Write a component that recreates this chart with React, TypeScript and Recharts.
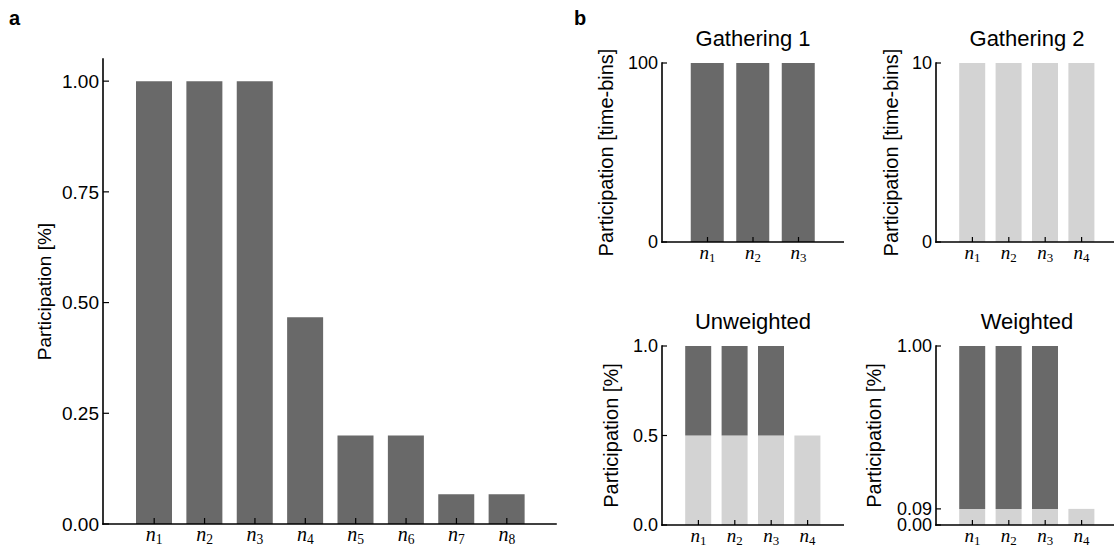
import { BarChart, Bar, XAxis, YAxis } from "recharts";

// panel a
const neuronsA = ["n1", "n2", "n3", "n4", "n5", "n6", "n7", "n8"];
const participationA = [1, 1, 1, 0.467, 0.2, 0.2, 0.067, 0.067];
const ticksA = [0, 0.25, 0.5, 0.75, 1];

// panel b, gatherings
const neuronsG1 = ["n1", "n2", "n3"];
const binsG1 = [100, 100, 100];
const neuronsG2 = ["n1", "n2", "n3", "n4"];
const binsG2 = [10, 10, 10, 10];

// panel b, participation split by gathering
const neuronsB = ["n1", "n2", "n3", "n4"];
const unweightedG1 = [0.5, 0.5, 0.5, 0];
const unweightedG2 = [0.5, 0.5, 0.5, 0.5];
const weightedG1 = [0.91, 0.91, 0.91, 0];
const weightedG2 = [0.09, 0.09, 0.09, 0.09];

const DARK = "#696969";
const LIGHT = "#d3d3d3";
const SANS = "'Liberation Sans', Arial, Helvetica, sans-serif";
const SERIF = "'Liberation Serif', 'Times New Roman', serif";
const axisStyle = { stroke: "#000", strokeWidth: 1.6, strokeLinecap: "square" as const };

const dataA = neuronsA.map((n, i) => ({ neuron: n, value: participationA[i] }));
const dataG1 = neuronsG1.map((n, i) => ({ neuron: n, value: binsG1[i] }));
const dataG2 = neuronsG2.map((n, i) => ({ neuron: n, value: binsG2[i] }));
const dataUnw = neuronsB.map((n, i) => ({ neuron: n, g2: unweightedG2[i], g1: unweightedG1[i] }));
const dataW = neuronsB.map((n, i) => ({ neuron: n, g2: weightedG2[i], g1: weightedG1[i] }));

// n_i labels with inward tick marks
function NTick(props: any) {
  const { x, y, payload, len, size, gap } = props;
  const v = String(payload.value);
  return (
    <g>
      <line x1={x} x2={x} y1={y} y2={y - len} stroke="#000" strokeWidth={1.2} />
      <text x={x} y={y + gap} textAnchor="middle" fontFamily={SERIF} fontSize={size} fill="#000">
        <tspan fontStyle="italic">{v[0]}</tspan>
        <tspan fontSize={size * 0.68} dy={3}>{v.slice(1)}</tspan>
      </text>
    </g>
  );
}

function YTick(props: any) {
  const { x, y, payload, len, size, digits } = props;
  return (
    <g>
      <line x1={x} x2={x + len} y1={y} y2={y} stroke="#000" strokeWidth={1.2} />
      <text x={x - 4} y={y} dy="0.36em" textAnchor="end" fontFamily={SANS} fontSize={size} fill="#000">
        {Number(payload.value).toFixed(digits)}
      </text>
    </g>
  );
}

const yLabel = (text: string, dist: number, size: number) => (props: any) => {
  const vb = props.viewBox;
  const cx = vb.x + vb.width - dist;
  const cy = vb.y + vb.height / 2;
  return (
    <text
      x={cx}
      y={cy}
      transform={`rotate(-90 ${cx} ${cy})`}
      textAnchor="middle"
      dominantBaseline="central"
      fontFamily={SANS}
      fontSize={size}
      fill="#000"
    >
      {text}
    </text>
  );
};

function SmallPanel(props: any) {
  const { left, top, width, height, axisW, mTop, xH, pad, data, ticks, domain, digits, label, labelDist, children } = props;
  return (
    <div style={{ position: "absolute", left, top }}>
      <BarChart width={width} height={height} data={data} margin={{ top: mTop, right: 0, bottom: 0, left: 0 }}>
        <XAxis
          dataKey="neuron"
          interval={0}
          padding={{ left: pad, right: pad }}
          height={xH}
          tickSize={0}
          tickMargin={0}
          tickLine={false}
          axisLine={axisStyle}
          tick={<NTick len={5} size={19} gap={17} />}
        />
        <YAxis
          type="number"
          domain={domain}
          ticks={ticks}
          interval={0}
          width={axisW}
          tickSize={0}
          tickMargin={0}
          tickLine={false}
          axisLine={axisStyle}
          tick={<YTick len={5} size={18} digits={digits} />}
          label={yLabel(label, labelDist, 20)}
        />
        {children}
      </BarChart>
    </div>
  );
}

export default function App() {
  return (
    <div style={{ position: "absolute", left: 0, top: 0, width: 1114, height: 548, overflow: "hidden", background: "#fff" }}>
      <div style={{ position: "absolute", left: 0, top: 0 }}>
        <BarChart width={560} height={548} data={dataA} margin={{ top: 59, right: 4, bottom: 0, left: 0 }}>
          <XAxis
            dataKey="neuron"
            interval={0}
            padding={{ left: 26, right: 24 }}
            height={24}
            tickSize={0}
            tickMargin={0}
            tickLine={false}
            axisLine={axisStyle}
            tick={<NTick len={6} size={20} gap={17} />}
          />
          <YAxis
            type="number"
            domain={[0, 1.05]}
            ticks={ticksA}
            interval={0}
            width={103}
            tickSize={0}
            tickMargin={0}
            tickLine={false}
            axisLine={axisStyle}
            tick={<YTick len={6} size={19} digits={2} />}
            label={yLabel("Participation [%]", 59, 19)}
          />
          <Bar dataKey="value" fill={DARK} barSize={36} isAnimationActive={false} />
        </BarChart>
      </div>

      <SmallPanel left={560} top={0} width={284} height={280} axisW={102} mTop={63} xH={38} pad={22.75}
        data={dataG1} ticks={[0, 100]} domain={[0, 100]} digits={0} label="Participation [time-bins]" labelDist={56}>
        <Bar dataKey="value" fill={DARK} barSize={33} isAnimationActive={false} />
      </SmallPanel>

      <SmallPanel left={836} top={0} width={282} height={280} axisW={100} mTop={63} xH={38} pad={18.2}
        data={dataG2} ticks={[0, 10]} domain={[0, 10]} digits={0} label="Participation [time-bins]" labelDist={45}>
        <Bar dataKey="value" fill={LIGHT} barSize={26} isAnimationActive={false} />
      </SmallPanel>

      <SmallPanel left={560} top={280} width={284} height={268} axisW={102} mTop={66} xH={23} pad={18.2}
        data={dataUnw} ticks={[0, 0.5, 1]} domain={[0, 1]} digits={1} label="Participation [%]" labelDist={51}>
        <Bar dataKey="g2" stackId="s" fill={LIGHT} barSize={26} isAnimationActive={false} />
        <Bar dataKey="g1" stackId="s" fill={DARK} barSize={26} isAnimationActive={false} />
      </SmallPanel>

      <SmallPanel left={836} top={280} width={282} height={268} axisW={100} mTop={66} xH={23} pad={18.2}
        data={dataW} ticks={[0, 0.09, 1]} domain={[0, 1]} digits={2} label="Participation [%]" labelDist={62}>
        <Bar dataKey="g2" stackId="s" fill={LIGHT} barSize={26} isAnimationActive={false} />
        <Bar dataKey="g1" stackId="s" fill={DARK} barSize={26} isAnimationActive={false} />
      </SmallPanel>

      <svg width={1114} height={548} style={{ position: "absolute", left: 0, top: 0, pointerEvents: "none" }}>
        <g fontFamily={SANS} fill="#000">
          <text x={9} y={25} fontSize={20} fontWeight="bold">a</text>
          <text x={574} y={25} fontSize={20} fontWeight="bold">b</text>
          <text x={753} y={46} fontSize={22} textAnchor="middle">Gathering 1</text>
          <text x={1027} y={46} fontSize={22} textAnchor="middle">Gathering 2</text>
          <text x={753} y={329} fontSize={22} textAnchor="middle">Unweighted</text>
          <text x={1027} y={329} fontSize={22} textAnchor="middle">Weighted</text>
        </g>
      </svg>
    </div>
  );
}
